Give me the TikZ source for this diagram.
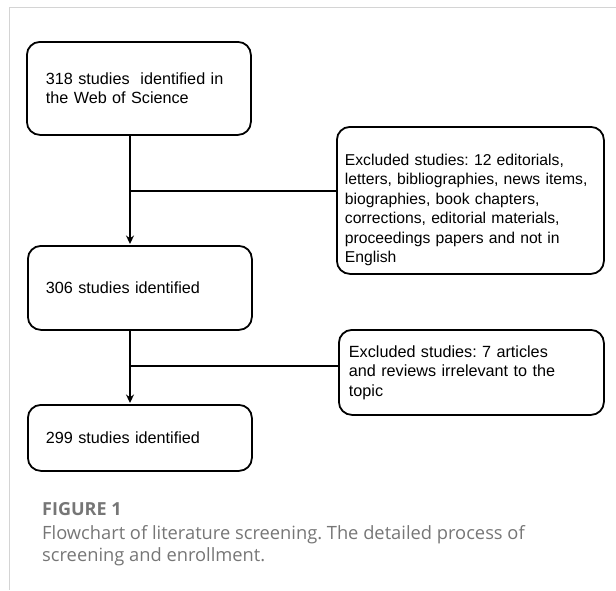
\documentclass[tikz,border=0pt]{standalone}
\usepackage{fontspec}
\setmainfont{Liberation Sans}
\newfontfamily\capfont{Open Sans}
\usetikzlibrary{arrows.meta}
\frenchspacing
\definecolor{capgray}{HTML}{767676}
\definecolor{framegray}{HTML}{D4D4D4}
\tikzset{
  flowbox/.style={draw, line width=1.8pt, rounded corners=13pt, anchor=north west,
    align=left, inner ysep=0pt, font=\fontsize{16.2}{19.5}\selectfont},
  capline/.style={inner sep=0pt, anchor=base west, text=capgray},
}
\begin{document}
\begin{tikzpicture}[x=1pt, y=-1pt, line join=round, >={Stealth[length=8.5pt,width=8pt]}]
\useasboundingbox (0,0) rectangle (616,590);
\draw[framegray, line width=1pt] (616,7) -- (9,7) -- (9,590);
% boxes
\node[flowbox, text width=186pt, inner xsep=19pt, minimum height=93pt] (b1) at (26,41)
  {318 studies\ \ identified in\\ the Web of Science};
\node[flowbox, text width=251pt, inner xsep=8pt, minimum height=147pt,
  font=\fontsize{15.7}{19.5}\selectfont] (ex1) at (336,126)
  {\rule{0pt}{30pt}Excluded studies: 12 editorials,\\ letters, bibliographies, news items,\\
   biographies, book chapters,\\ corrections, editorial materials,\\
   proceedings papers and not in\\ English};
\node[flowbox, text width=188pt, inner xsep=18pt, minimum height=84pt] (b3) at (27,245)
  {306 studies identified};
\node[flowbox, text width=245pt, inner xsep=10pt, minimum height=85pt] (ex2) at (338,329)
  {Excluded studies: 7 articles\\ and reviews irrelevant to the\\ topic};
\node[flowbox, text width=188pt, inner xsep=18pt, minimum height=66pt] (b5) at (27,404)
  {299 studies identified};
% connectors
\coordinate (j1) at (130,191);
\coordinate (j2) at (130,366);
\draw[line width=1.8pt, ->, shorten >=1pt] (b1.south -| j1) -- (b3.north -| j1);
\draw[line width=1.8pt] (j1) -- (ex1.west |- j1);
\draw[line width=1.8pt, ->, shorten >=1pt] (b3.south -| j2) -- (b5.north -| j2);
\draw[line width=1.8pt] (j2) -- (ex2.west |- j2);
% caption
\node[capline, font=\capfont\bfseries\fontsize{18}{22}\selectfont] (fig) at (42,515) {FIGURE 1};
\node[capline, font=\capfont\fontsize{18.3}{22.5}\selectfont] (cap1) at (42,539)
  {Flowchart of literature screening. The detailed process of};
\node[capline, font=\capfont\fontsize{18.3}{22.5}\selectfont] (cap2) at (42,561.5)
  {screening and enrollment.};
\end{tikzpicture}
\end{document}
